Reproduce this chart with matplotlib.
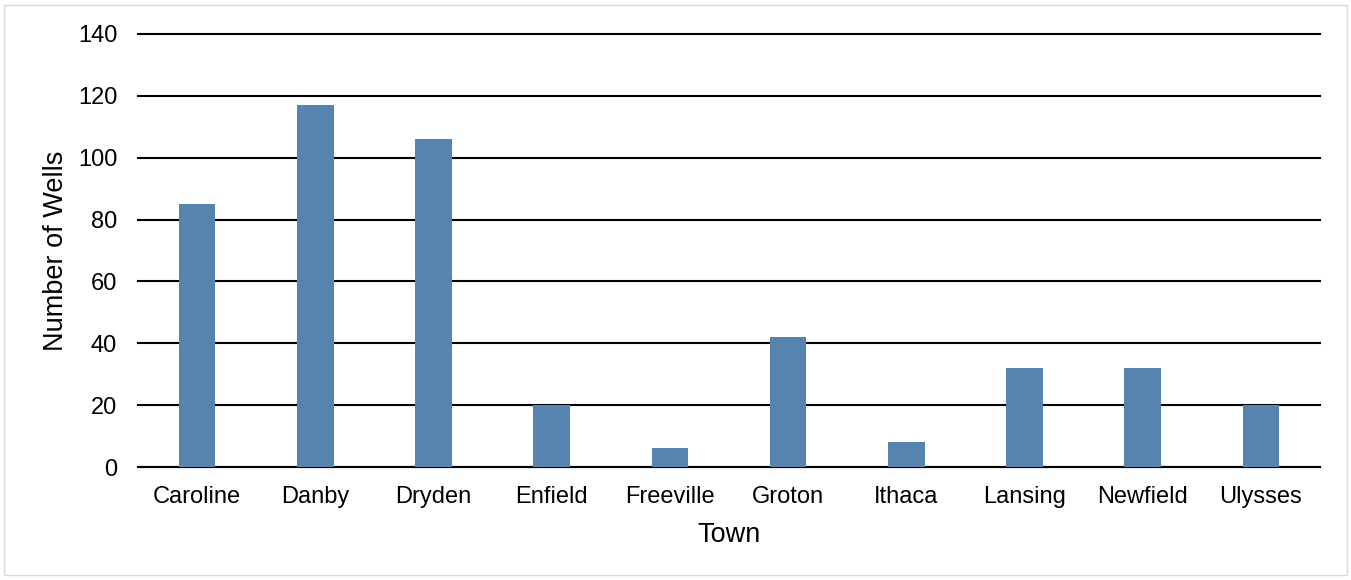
import matplotlib
matplotlib.use("Agg")
import matplotlib.pyplot as plt
from matplotlib.patches import Rectangle

towns = ["Caroline", "Danby", "Dryden", "Enfield", "Freeville", "Groton",
         "Ithaca", "Lansing", "Newfield", "Ulysses"]
wells = [85, 117, 106, 20, 6, 42, 8, 32, 32, 20]
yticks = [0, 20, 40, 60, 80, 100, 120, 140]

plt.rcParams['font.family'] = ['Liberation Sans', 'DejaVu Sans']

fig = plt.figure(figsize=(13.51, 5.8), dpi=100)
ax = fig.add_axes([138/1351, 1-467/580, (1320-138)/1351, (467-34)/580])

x = list(range(len(towns)))
ax.bar(x, wells, width=0.31, color='#5784ae', zorder=3)

ax.set_xlim(-0.5, len(towns)-0.5)
ax.set_ylim(0, 140)
ax.set_yticks(yticks)
ax.set_xticks(x)
ax.set_xticklabels(towns)
ax.yaxis.grid(True, color='black', linewidth=1.5, zorder=0)
ax.set_axisbelow(True)
for line in ax.get_ygridlines():
    line.set_clip_on(False)
for s in ['top', 'right', 'left']:
    ax.spines[s].set_visible(False)
ax.spines['bottom'].set_color('black')
ax.spines['bottom'].set_linewidth(1.5)
ax.tick_params(axis='both', length=0, labelsize=17, colors='black')
ax.tick_params(axis='y', pad=15)
ax.tick_params(axis='x', pad=14)
ax.set_xlabel("Town", fontsize=19.5, labelpad=10)
ax.set_ylabel("Number of Wells", fontsize=19.5, labelpad=6)

fig.patches.append(Rectangle((4/1351, 1-575/580), 1343/1351, 570/580,
                             transform=fig.transFigure, fill=False,
                             edgecolor='#d9d9d9', linewidth=1))

fig.savefig("out.png", dpi=100)
